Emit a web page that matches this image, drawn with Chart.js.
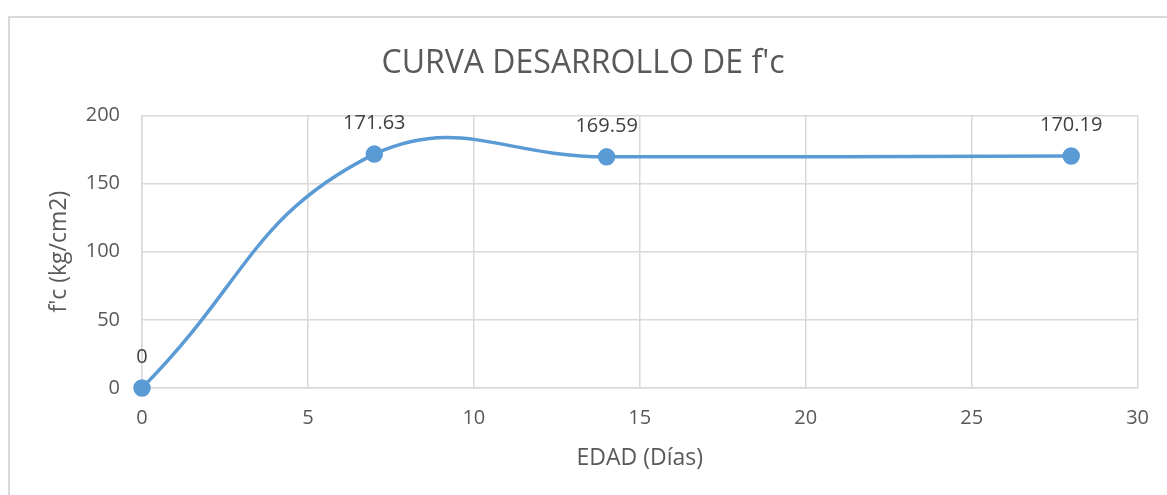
<!DOCTYPE html>
<html>
<head>
<meta charset="utf-8">
<script src="https://cdn.jsdelivr.net/npm/chart.js@4.4.1/dist/chart.umd.min.js"></script>
<style>
    html, body { margin: 0; padding: 0; background: #ffffff; overflow: hidden; }
    #frame {
        position: absolute; left: 8px; top: 16px; width: 1200px; height: 520px;
        border: 2px solid #d9d9d9; box-sizing: border-box;
    }
    #wrap { position: absolute; left: 0; top: 0; width: 1167px; height: 495px; }
</style>
</head>
<body>
<div id="frame"></div>
<div id="wrap"><canvas id="fcChart" width="1167" height="495"></canvas></div>
<script>
// Edad (dias) y resistencia f'c (kg/cm2)
const edadDias = [0, 7, 14, 28];
const fcValores = [0, 171.63, 169.59, 170.19];
const xTicks = [0, 5, 10, 15, 20, 25, 30];
const yTicks = [0, 50, 100, 150, 200];

const FONT = '"Open Sans", sans-serif';
const TEXT_COLOR = '#595959';
const GRID_COLOR = '#d9d9d9';
const LINE_COLOR = '#5b9bd5';

// Draw the value above each point (Excel style data labels)
const pointLabels = {
    id: 'pointLabels',
    afterDatasetsDraw(chart) {
        const ctx = chart.ctx;
        const meta = chart.getDatasetMeta(0);
        ctx.save();
        ctx.font = '20px ' + FONT;
        ctx.fillStyle = '#404040';
        ctx.textAlign = 'center';
        ctx.textBaseline = 'middle';
        meta.data.forEach((pt, i) => {
            ctx.fillText(String(fcValores[i]), pt.x, pt.y - 31);
        });
        ctx.restore();
    }
};

const points = edadDias.map((x, i) => ({ x: x, y: fcValores[i] }));

new Chart(document.getElementById('fcChart'), {
    type: 'scatter',
    data: {
        datasets: [{
            label: "f'c",
            data: points,
            showLine: true,
            borderColor: LINE_COLOR,
            backgroundColor: LINE_COLOR,
            borderWidth: 3.5,
            pointRadius: 7,
            pointHoverRadius: 7,
            tension: 0.45,
            clip: false
        }]
    },
    options: {
        responsive: false,
        animation: false,
        layout: { padding: { left: 24, right: 25, top: 0, bottom: 0 } },
        plugins: {
            legend: { display: false },
            tooltip: { enabled: false },
            title: {
                display: true,
                text: "CURVA DESARROLLO DE f'c",
                color: TEXT_COLOR,
                font: { family: FONT, size: 32, weight: 'normal' },
                padding: { top: 45, bottom: 32 }
            }
        },
        scales: {
            x: {
                type: 'linear',
                min: 0,
                max: 30,
                afterBuildTicks: (axis) => { axis.ticks = xTicks.map(v => ({ value: v })); },
                afterFit: (axis) => { axis.height = 107; },
                grid: { color: GRID_COLOR, lineWidth: 1.5, drawTicks: false },
                border: { color: GRID_COLOR, width: 1.5 },
                ticks: { color: TEXT_COLOR, font: { family: FONT, size: 20 }, padding: 18 },
                title: {
                    display: true,
                    text: 'EDAD (Días)',
                    color: TEXT_COLOR,
                    font: { family: FONT, size: 23 },
                    padding: { top: 0, bottom: 23 }
                }
            },
            y: {
                min: 0,
                max: 200,
                afterBuildTicks: (axis) => { axis.ticks = yTicks.map(v => ({ value: v })); },
                afterFit: (axis) => { axis.width = 118; },
                grid: { color: GRID_COLOR, lineWidth: 1.5, drawTicks: false },
                border: { color: GRID_COLOR, width: 1.5 },
                ticks: { color: TEXT_COLOR, font: { family: FONT, size: 20 }, padding: 22 },
                title: {
                    display: true,
                    text: "f'c (kg/cm2)",
                    color: TEXT_COLOR,
                    font: { family: FONT, size: 23 },
                    padding: { top: 22, bottom: 0 }
                }
            }
        }
    },
    plugins: [pointLabels]
});
</script>
</body>
</html>
